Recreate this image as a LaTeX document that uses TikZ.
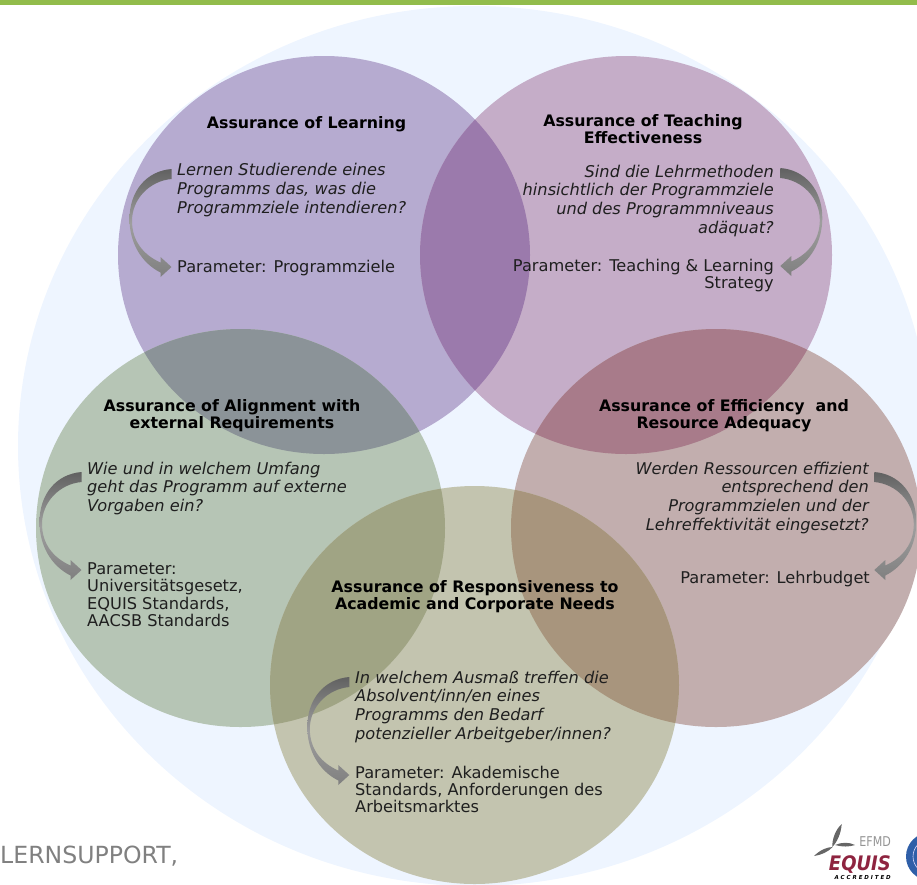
\documentclass[tikz,border=0pt]{standalone}
\usepackage{fontspec}
\setmainfont{DejaVu Sans}
\definecolor{bar}{HTML}{92BC4B}
\definecolor{bigc}{HTML}{EEF5FF}
\definecolor{cpurple}{HTML}{B6ABD0}
\definecolor{cmauve}{HTML}{C5ADC8}
\definecolor{cgreen}{HTML}{B6C5B5}
\definecolor{cbrown}{HTML}{C2AEAE}
\definecolor{colive}{HTML}{C3C4AF}
\definecolor{xpm}{HTML}{9B7AAC}
\definecolor{xpg}{HTML}{8B9398}
\definecolor{xmb}{HTML}{A87B8A}
\definecolor{xgo}{HTML}{A0A484}
\definecolor{xbo}{HTML}{A8957D}
\definecolor{equisred}{HTML}{8E2440}
\definecolor{sealblue}{HTML}{2F5FA8}
\def\shPu{(324,255) ellipse [x radius=206,y radius=199]}
\def\shMa{(626,255) ellipse [x radius=206,y radius=199]}
\def\shGr{(240.5,528) ellipse [x radius=204.5,y radius=199]}
\def\shBr{(716,528) ellipse [x radius=205,y radius=199]}
\def\shOl{(474.5,685) ellipse [x radius=204.5,y radius=199]}
\newcommand{\lensfill}[3]{\begin{scope}\clip #1;\fill[#3] #2;\end{scope}}
\newcommand{\bigarrow}[3]{%
 \shade[xshift=#1,yshift=-#2,xscale=#3,top color=black!62,bottom color=black!50,middle color=black!38]
 (0,0) .. controls (-25,2) and (-42,22) .. (-42,50)
 .. controls (-42,74) and (-30,94) .. (-11,103.5) -- (-11,108) -- (0,98) -- (-11,88) -- (-11,93.5)
 .. controls (-28,86) and (-39.5,72) .. (-39.5,52) .. controls (-39.5,30) and (-22,12) .. (0,10) -- cycle;}
\tikzset{
 x=1pt,y=-1pt,
 ttl/.style={inner sep=0pt,align=center,text=black,font=\fontsize{15.8}{17}\selectfont\bfseries},
 qleft/.style={inner sep=0pt,align=left,anchor=north west,text=black!88,font=\fontsize{16.2}{18.9}\selectfont\itshape},
 qright/.style={inner sep=0pt,align=right,anchor=north east,text=black!88,font=\fontsize{16.2}{18.9}\selectfont\itshape},
 pleft/.style={inner sep=0pt,align=left,anchor=north west,text=black!88,font=\fontsize{16.2}{17.3}\selectfont},
 pright/.style={inner sep=0pt,align=right,anchor=north east,text=black!88,font=\fontsize{16.2}{17.3}\selectfont},
 wing/.style={fill=black!60},
}
\begin{document}
\begin{tikzpicture}
\useasboundingbox (0,0) rectangle (917,884);
\begin{scope}
\clip (0,0) rectangle (917,884);
\fill[bar] (0,0) rectangle (917,5);
\fill[bigc] (474.5,446) ellipse [x radius=456.5,y radius=440];
\fill[cpurple] \shPu;
\fill[cmauve] \shMa;
\fill[cgreen] \shGr;
\fill[cbrown] \shBr;
\fill[colive] \shOl;
\lensfill{\shPu}{\shMa}{xpm}
\lensfill{\shPu}{\shGr}{xpg}
\lensfill{\shMa}{\shBr}{xmb}
\lensfill{\shGr}{\shOl}{xgo}
\lensfill{\shBr}{\shOl}{xbo}
\bigarrow{171.5}{169}{1}
\bigarrow{780.3}{168}{-1}
\bigarrow{81.5}{472}{1}
\bigarrow{874.3}{472}{-1}
\bigarrow{349.3}{677}{1}
% logos
\fill[wing] (841.7,824) .. controls (835,830) and (832,840) .. (832.3,847) .. controls (837,842) and (841,834) .. (841.7,824) -- cycle;
\fill[wing] (835,845) .. controls (842,842) and (849,842) .. (855,845) .. controls (849,847) and (842,847) .. (835,845) -- cycle;
\fill[wing] (814,856) .. controls (820,850) and (827,847) .. (832.7,847) .. controls (828,852) and (821,855) .. (814,856) -- cycle;
\fill[sealblue] (930,856.5) circle (24);
\draw[blue!15,line width=0.6pt] (930,856.5) circle (17);
\end{scope}
\node[ttl] (t1) at (306.5,124.5) {Assurance of Learning};
\node[ttl] (t2) at (643,129.5) {Assurance of Teaching\\Effectiveness};
\node[ttl] (t3) at (232,416) {Assurance of Alignment with\\external Requirements};
\node[ttl] (t4) at (724,416) {Assurance of Efficiency\ \ and\\Resource Adequacy};
\node[ttl] (t5) at (475,597) {Assurance of Responsiveness to\\Academic and Corporate Needs};
\node[qleft] (q1) at (177,163) {Lernen Studierende eines\\Programms das, was die\\Programmziele intendieren?};
\node[pleft] (p1) at (177,260) {Parameter: Programmziele};
\node[qright] (q2) at (774,164.5) {Sind die Lehrmethoden\\hinsichtlich der Programmziele\\und des Programmniveaus\\adäquat?};
\node[pright] (p2) at (774,258.5) {Parameter: Teaching \& Learning\\Strategy};
\node[qleft] (q3) at (87,461.5) {Wie und in welchem Umfang\\geht das Programm auf externe\\Vorgaben ein?};
\node[pleft] (p3) at (87,562.5) {Parameter:\\Universitätsgesetz,\\EQUIS Standards,\\AACSB Standards};
\node[qright] (q4) at (869,461.5) {Werden Ressourcen effizient\\entsprechend den\\Programmzielen und der\\Lehreffektivität eingesetzt?};
\node[pright] (p4) at (870,571) {Parameter: Lehrbudget};
\node[qleft] (q5) at (355,670.5) {In welchem Ausmaß treffen die\\Absolvent/inn/en eines\\Programms den Bedarf\\potenzieller Arbeitgeber/innen?};
\node[pleft] (p5) at (355,765.5) {Parameter: Akademische\\Standards, Anforderungen des\\Arbeitsmarktes};
\node[inner sep=0pt,anchor=base west,text=black!50,font=\fontsize{23.6}{26}\selectfont] (ls) at (0,863) {LERNSUPPORT,};
\node[inner sep=0pt,anchor=base east,text=black!42,font=\fontsize{13.5}{14}\selectfont,transform shape,xscale=0.82] (ef) at (891,846) {EFMD};
\node[inner sep=0pt,anchor=base east,text=equisred,font=\fontsize{20}{20}\selectfont\bfseries\itshape,transform shape,xscale=0.9] (eq) at (891,870) {EQUIS};
\node[inner sep=0pt,anchor=base east,text=black,font=\fontsize{5.5}{6}\selectfont\bfseries\itshape] (ac) at (891,879) {A C C R E D I T E D};
\end{tikzpicture}
\end{document}
